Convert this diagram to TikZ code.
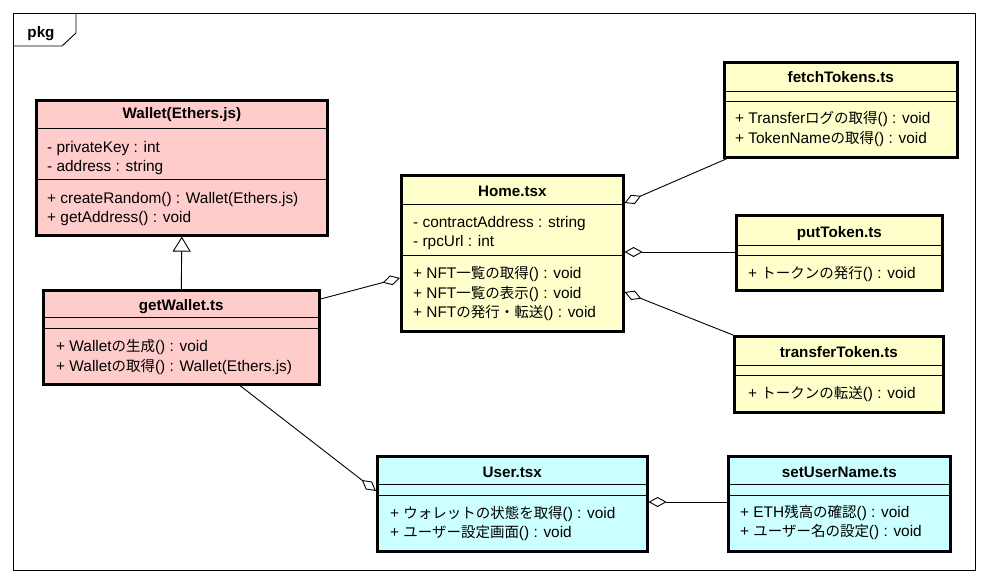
\documentclass[tikz,border=0pt]{standalone}
\usepackage{fontspec}
\setmainfont{Liberation Sans}
\newfontfamily\jpfont{Noto Sans CJK JP}[Scale=0.94]
\usepackage{xcolor}
\usepackage{tikz}
\usetikzlibrary{arrows.meta, positioning, calc}
\definecolor{walletpink}{HTML}{FFCCCC}
\definecolor{homeyellow}{HTML}{FFFFCC}
\definecolor{usercyan}{HTML}{CCFFFF}
\newcommand{\ja}[1]{{\jpfont #1}}
\tikzset{
    classbox/.style={rectangle, draw, line width=2.6pt, inner sep=0pt, anchor=north west},
    walletclass/.style={classbox, fill=walletpink},
    homeclass/.style={classbox, fill=homeyellow},
    userclass/.style={classbox, fill=usercyan},
    classname/.style={anchor=base, inner sep=0pt, font=\bfseries\fontsize{15.2}{18}\selectfont},
    member/.style={anchor=base west, inner sep=0pt, font=\fontsize{15.4}{18}\selectfont},
    sepline/.style={line width=0.9pt},
    aggrend/.style={-{Diamond[open, length=18pt, width=10pt]}, line width=0.9pt},
    aggrstart/.style={{Diamond[open, length=18pt, width=10pt]}-, line width=0.9pt},
    genline/.style={-{Triangle[open, length=15pt, width=18pt]}, line width=0.9pt},
}

\begin{document}
\begin{tikzpicture}[x=1pt, y=-1pt]
    \useasboundingbox (0,0) rectangle (989,584);
    % package frame
    \draw[line width=0.9pt] (13,13) rectangle (975,570);
    \draw[line width=0.9pt] (13,46) -- (62,46) -- (76,33) -- (76,13);
    \node[classname] (pkg) at (41,37) {pkg};

    % Wallet(Ethers.js)
    \node[walletclass, minimum width=291pt, minimum height=135pt] (wallet) at (35,99) {};
    \node[classname] (walletname) at (wallet.north |- 0,118.5) {Wallet(Ethers.js)};
    \draw[sepline] (wallet.west |- 0,128) -- (wallet.east |- 0,128);
    \draw[sepline] (wallet.west |- 0,179) -- (wallet.east |- 0,179);
    \node[member] (walletkey) at (47,152.5) {- privateKey : int};
    \node[member] (walletaddr) at (47,171.5) {- address : string};
    \node[member] (walletrand) at (47,203.5) {+ createRandom() : Wallet(Ethers.js)};
    \node[member] (walletget) at (47,222.5) {+ getAddress() : void};

    % getWallet.ts
    \node[walletclass, minimum width=276pt, minimum height=94pt] (getwallet) at (42,289) {};
    \node[classname] (getwalletname) at (getwallet.north |- 0,310.5) {getWallet.ts};
    \draw[sepline] (getwallet.west |- 0,317) -- (getwallet.east |- 0,317);
    \draw[sepline] (getwallet.west |- 0,328) -- (getwallet.east |- 0,328);
    \node[member] (getwalletnew) at (56,351.5) {+ Wallet\ja{の生成}() : void};
    \node[member] (getwalletget) at (56,371) {+ Wallet\ja{の取得}() : Wallet(Ethers.js)};

    % Home.tsx
    \node[homeclass, minimum width=222pt, minimum height=156pt] (home) at (400,174) {};
    \node[classname] (homename) at (home.north |- 0,196.5) {Home.tsx};
    \draw[sepline] (home.west |- 0,204) -- (home.east |- 0,204);
    \draw[sepline] (home.west |- 0,255) -- (home.east |- 0,255);
    \node[member] (homeaddr) at (413,227.5) {- contractAddress : string};
    \node[member] (homerpc) at (413,246.5) {- rpcUrl : int};
    \node[member] (homefetch) at (413,278.5) {+ NFT\ja{一覧の取得}() : void};
    \node[member] (homeshow) at (413,298) {+ NFT\ja{一覧の表示}() : void};
    \node[member] (homesend) at (413,317.5) {+ NFT\ja{の発行・転送}() : void};

    % fetchTokens.ts
    \node[homeclass, minimum width=233pt, minimum height=95pt] (fetch) at (723,61) {};
    \node[classname] (fetchname) at (fetch.north |- 0,82.5) {fetchTokens.ts};
    \draw[sepline] (fetch.west |- 0,91) -- (fetch.east |- 0,91);
    \draw[sepline] (fetch.west |- 0,101) -- (fetch.east |- 0,101);
    \node[member] (fetchlog) at (735,123.5) {+ Transfer\ja{ログの取得}() : void};
    \node[member] (fetchname2) at (735,143.5) {+ TokenName\ja{の取得}() : void};

    % putToken.ts
    \node[homeclass, minimum width=206pt, minimum height=75pt] (put) at (735,214) {};
    \node[classname] (putname) at (put.north |- 0,237.5) {putToken.ts};
    \draw[sepline] (put.west |- 0,245) -- (put.east |- 0,245);
    \draw[sepline] (put.west |- 0,255) -- (put.east |- 0,255);
    \node[member] (putmint) at (748,278) {+ \ja{トークンの発行}() : void};

    % transferToken.ts
    \node[homeclass, minimum width=209pt, minimum height=76pt] (transfer) at (733,335) {};
    \node[classname] (transfername) at (transfer.north |- 0,357.5) {transferToken.ts};
    \draw[sepline] (transfer.west |- 0,365) -- (transfer.east |- 0,365);
    \draw[sepline] (transfer.west |- 0,375) -- (transfer.east |- 0,375);
    \node[member] (transfersend) at (748,398.5) {+ \ja{トークンの転送}() : void};

    % User.tsx
    \node[userclass, minimum width=270pt, minimum height=95pt] (user) at (376,455) {};
    \node[classname] (username) at (user.north |- 0,477.5) {User.tsx};
    \draw[sepline] (user.west |- 0,484) -- (user.east |- 0,484);
    \draw[sepline] (user.west |- 0,495) -- (user.east |- 0,495);
    \node[member] (userstate) at (390,518) {+ \ja{ウォレットの状態を取得}() : void};
    \node[member] (userpage) at (390,537) {+ \ja{ユーザー設定画面}() : void};

    % setUserName.ts
    \node[userclass, minimum width=222pt, minimum height=95pt] (setuser) at (727,455) {};
    \node[classname] (setusername) at (setuser.north |- 0,477.5) {setUserName.ts};
    \draw[sepline] (setuser.west |- 0,484) -- (setuser.east |- 0,484);
    \draw[sepline] (setuser.west |- 0,495) -- (setuser.east |- 0,495);
    \node[member] (setuserbal) at (740,517.5) {+ ETH\ja{残高の確認}() : void};
    \node[member] (setusername2) at (740,536.5) {+ \ja{ユーザー名の設定}() : void};

    % relations
    \draw[genline] (getwallet.north) -- (wallet.south);
    \draw[aggrend] (getwallet.east |- 0,299) -- (home.west |- 0,278);
    \draw[aggrstart] (home.east |- 0,203) -- ([xshift=4pt]fetch.south west);
    \draw[aggrstart] (home.east |- 0,252) -- (put.west |- 0,252);
    \draw[aggrstart] (home.east |- 0,292) -- (transfer.north west);
    \draw[aggrend] (240,0 |- getwallet.south) -- (user.west |- 0,491);
    \draw[aggrstart] (user.east |- 0,502) -- (setuser.west |- 0,502);
\end{tikzpicture}
\end{document}
